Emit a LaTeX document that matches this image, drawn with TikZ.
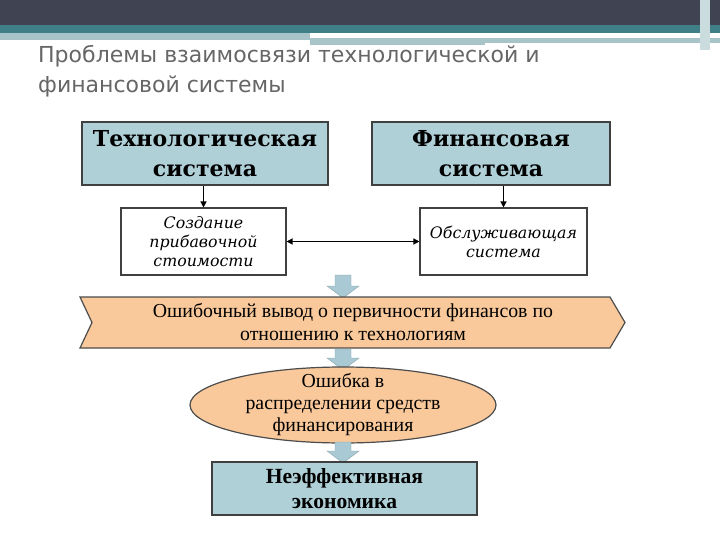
\documentclass[tikz,border=0pt]{standalone}
\usepackage{fontspec}
\setmainfont{Liberation Serif}
\newfontfamily\titlefont{DejaVu Sans}
\newfontfamily\wideserif{DejaVu Serif}
\usetikzlibrary{arrows.meta,shapes.geometric}
\definecolor{hdark}{HTML}{404452}
\definecolor{hteal}{HTML}{3F7F88}
\definecolor{hlight}{HTML}{A8C4C8}
\definecolor{bluebox}{HTML}{B0D0D8}
\definecolor{orangef}{HTML}{F9C99B}
\definecolor{barrow}{HTML}{A9CAD4}
\tikzset{
 bluebx/.style={draw=black!75,line width=1.3pt,fill=bluebox,align=center,font=\wideserif\bfseries\fontsize{22}{30}\selectfont,inner sep=0pt},
 whitebx/.style={draw=black!75,line width=1.1pt,fill=white,align=center,font=\wideserif\itshape\fontsize{15.8}{19}\selectfont,inner sep=0pt},
 conn/.style={line width=1.3pt,-{Triangle[length=6pt,width=6pt]}},
 fatarrow/.style={fill=barrow,draw=barrow!80!black,line width=0.4pt}
}
\begin{document}
\begin{tikzpicture}[x=1pt,y=-1pt]
\useasboundingbox (0,0) rectangle (720,540);
\fill[white] (0,0) rectangle (720,540);
% header
\fill[hdark] (0,0) rectangle (720,25);
\fill[hteal] (0,25) rectangle (720,33);
\fill[hlight] (0,33) rectangle (310,40);
\fill[hlight] (310,38) rectangle (485,45);
\fill[hlight] (485,38) rectangle (720,43);
\fill[hlight!60] (700,0) rectangle (710,50);
\node[anchor=north west,align=left,text=black!60,font=\titlefont\fontsize{22}{30}\selectfont,inner sep=0pt] (title) at (38,45) {Проблемы взаимосвязи технологической и\\финансовой системы};
% boxes
\node[bluebx,minimum width=246pt,minimum height=63pt] (tech) at (205,153.5) {Технологическая\\система};
\node[bluebx,minimum width=238pt,minimum height=63pt] (fin) at (491,153.5) {Финансовая\\система};
\node[whitebx,minimum width=165pt,minimum height=67pt] (sozd) at (203.5,241.5) {Создание\\прибавочной\\стоимости};
\node[whitebx,minimum width=167pt,minimum height=67pt] (obsl) at (503.5,241.5) {Обслуживающая\\система};
\draw[conn] (tech.south -| sozd.north) -- (sozd.north);
\draw[conn] (fin.south -| obsl.north) -- (obsl.north);
\draw[line width=1.3pt,{Triangle[length=6pt,width=6pt]}-{Triangle[length=6pt,width=6pt]}] (sozd.east) -- (obsl.west);
% fat arrows
\fill[fatarrow] (335,275) -- (351,275) -- (351,286) -- (359,286) -- (343,298) -- (327,286) -- (335,286) -- cycle;
% chevron
\draw[fill=orangef,draw=black!70,line width=1.2pt] (80,297) -- (610,297) -- (625,322.5) -- (610,348) -- (80,348) -- (92,322.5) -- cycle;
\node[align=center,font=\fontsize{19.8}{23}\selectfont,inner sep=0pt] (chev) at (353,322.5) {Ошибочный вывод о первичности финансов по\\отношению к технологиям};
\fill[fatarrow] (335,349) -- (351,349) -- (351,358) -- (359,358) -- (343,370) -- (327,358) -- (335,358) -- cycle;
\draw[draw=black!70,line width=1.2pt,fill=orangef] (343,405) ellipse [x radius=153pt,y radius=38pt];
\node[align=center,font=\fontsize{19.8}{22}\selectfont,inner sep=0pt] (ell) at (343,405) {Ошибка в\\распределении средств\\финансирования};
\fill[fatarrow] (335,442) -- (351,442) -- (351,451) -- (359,451) -- (343,463) -- (327,451) -- (335,451) -- cycle;
\node[bluebx,font=\bfseries\fontsize{21.6}{25}\selectfont,minimum width=265pt,minimum height=53pt] (neef) at (344.5,488.5) {Неэффективная\\экономика};
\end{tikzpicture}
\end{document}
